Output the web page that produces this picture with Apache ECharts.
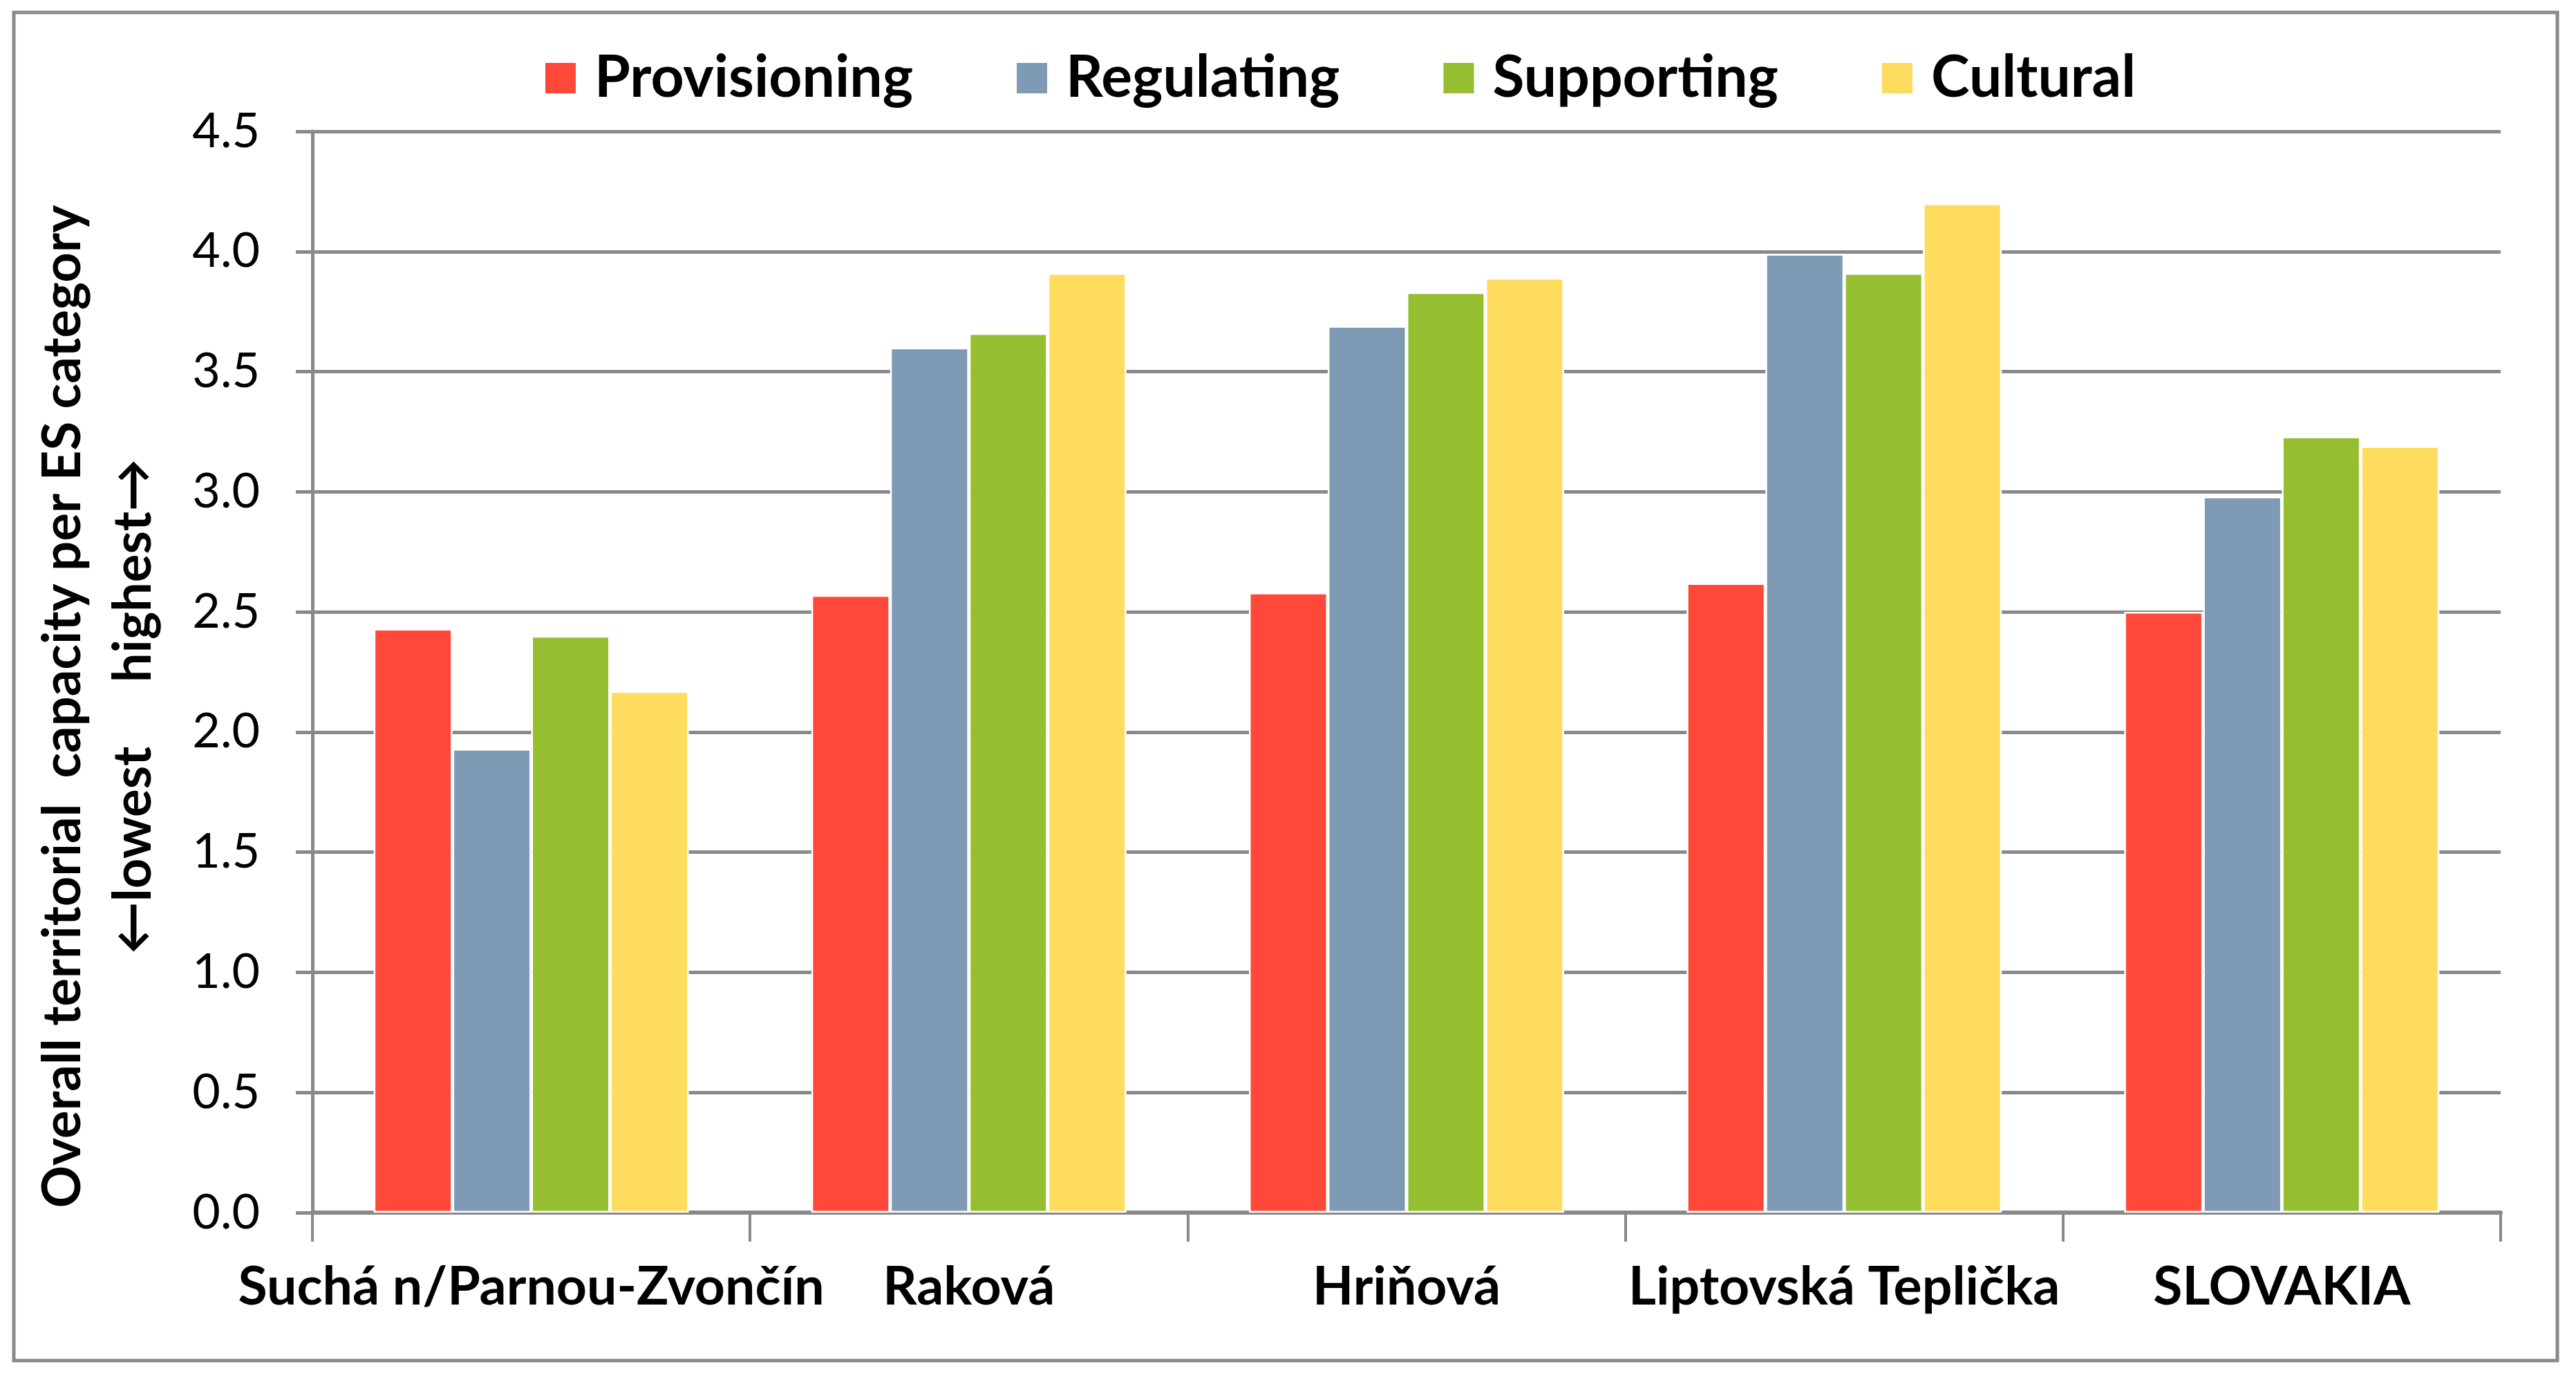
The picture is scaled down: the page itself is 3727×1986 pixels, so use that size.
<!DOCTYPE html>
<html>
<head>
<meta charset="utf-8">
<script src="https://cdn.jsdelivr.net/npm/echarts@6/dist/echarts.min.js"></script>
<style>
html,body{margin:0;padding:0;background:#fff;}
#main{width:3727px;height:1986px;}
</style>
</head>
<body>
<div id="main"></div>
<script>
const categories = ['Suchá n/Parnou-Zvončín', 'Raková', 'Hriňová', 'Liptovská Teplička', 'SLOVAKIA'];
const seriesNames = ['Provisioning', 'Regulating', 'Supporting', 'Cultural'];
const provisioning = [2.43, 2.57, 2.58, 2.62, 2.50];
const regulating = [1.93, 3.60, 3.69, 3.99, 2.98];
const supporting = [2.40, 3.66, 3.83, 3.91, 3.23];
const cultural = [2.17, 3.91, 3.89, 4.20, 3.19];
const yTicks = ['0.0','0.5','1.0','1.5','2.0','2.5','3.0','3.5','4.0','4.5'];
const colors = ['#FF4839', '#7F9AB4', '#95BE31', '#FFDB5E'];

const seriesValues = [provisioning, regulating, supporting, cultural];
const gray = '#898989';
const FONT = 'Lato, "Open Sans", sans-serif';

const chart = echarts.init(document.getElementById('main'));
chart.setOption({
  animation: false,
  backgroundColor: '#fff',
  textStyle: { fontFamily: FONT, color: '#000' },
  graphic: [{
    type: 'rect',
    shape: { x: 20, y: 18, width: 3680, height: 1950 },
    style: { fill: 'none', stroke: gray, lineWidth: 5 },
    silent: true
  }],
  legend: {
    left: 789,
    top: 66,
    padding: 0,
    itemWidth: 44,
    itemHeight: 44,
    itemGap: 150,
    icon: 'rect',
    itemStyle: { borderWidth: 0 },
    textStyle: { fontFamily: FONT, fontSize: 84, fontWeight: 'bold', color: '#000', padding: [0, 0, 0, 22], lineHeight: 94 },
    data: seriesNames
  },
  grid: { left: 452, right: 109, top: 190, bottom: 232, containLabel: false },
  xAxis: {
    type: 'category',
    data: categories,
    boundaryGap: true,
    axisLine: { lineStyle: { color: gray, width: 6 } },
    axisTick: { show: true, length: 42, lineStyle: { color: gray, width: 4 } },
    axisLabel: { fontFamily: FONT, fontSize: 77, fontWeight: 'bold', color: '#000', margin: 70, interval: 0 }
  },
  yAxis: {
    type: 'value',
    min: 0, max: 4.5, interval: 0.5,
    name: 'Overall territorial  capacity per ES category\n←lowest     highest→',
    nameLocation: 'middle',
    nameGap: 208,
    nameTextStyle: { fontFamily: FONT, fontSize: 76, fontWeight: 'bold', color: '#000', lineHeight: 102, align: 'center', padding: [0, 100, 0, 0] },
    axisLine: { show: true, lineStyle: { color: gray, width: 5 } },
    axisTick: { show: true, length: 24, lineStyle: { color: gray, width: 5 } },
    axisLabel: { fontFamily: FONT, fontSize: 70, color: '#000', margin: 76, formatter: (v) => yTicks[Math.round(v / 0.5)] },
    splitLine: { show: true, lineStyle: { color: gray, width: 5 } }
  },
  series: seriesNames.map((n, i) => ({
    name: n,
    type: 'bar',
    data: seriesValues[i],
    barGap: '0%',
    barCategoryGap: '28%',
    itemStyle: { color: colors[i], borderColor: '#fff', borderWidth: 2.5 }
  }))
});
</script>
</body>
</html>
